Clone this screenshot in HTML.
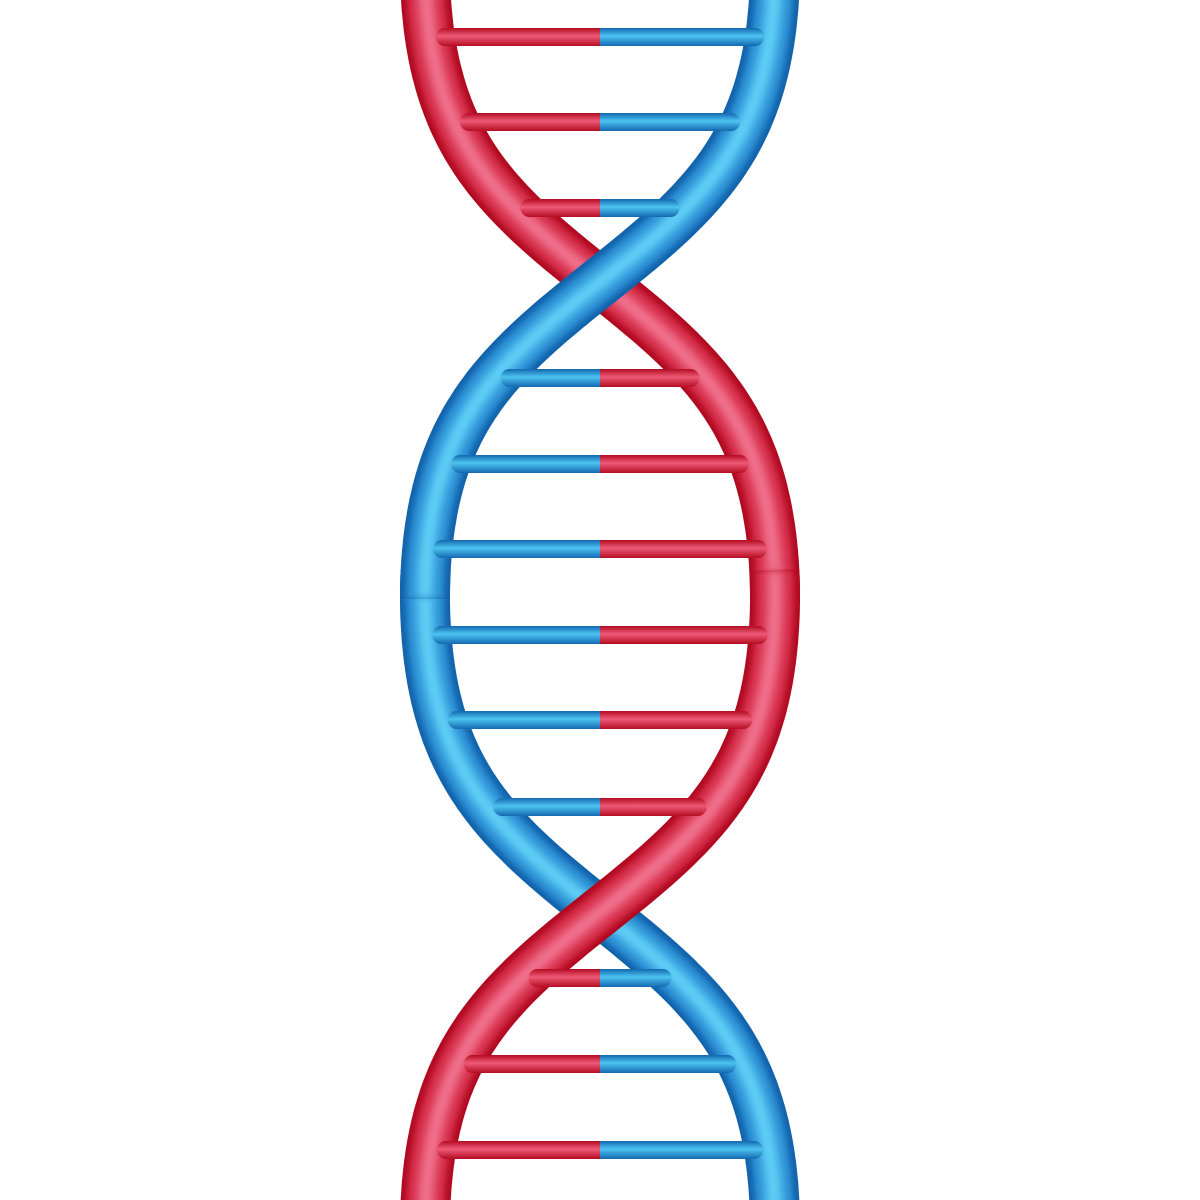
<!DOCTYPE html>
<html><head><meta charset="utf-8"><style>
html,body{margin:0;padding:0;background:#fff;width:1200px;height:1200px;overflow:hidden}
svg{display:block}
</style></head><body>
<svg id="dna" width="1200" height="1200" viewBox="0 0 1200 1200" xmlns="http://www.w3.org/2000/svg">
<defs>
<filter id="soft" x="-20%" y="-20%" width="140%" height="140%"><feGaussianBlur stdDeviation="5"/></filter>
<filter id="soft2" x="-20%" y="-20%" width="140%" height="140%"><feGaussianBlur stdDeviation="3"/></filter>
<linearGradient id="gRed" x1="0" y1="0" x2="0" y2="1">
<stop offset="0" stop-color="#b50c22"/><stop offset="0.45" stop-color="#ee5a78"/><stop offset="1" stop-color="#b50c22"/>
</linearGradient>
<linearGradient id="gBlue" x1="0" y1="0" x2="0" y2="1">
<stop offset="0" stop-color="#1468b0"/><stop offset="0.45" stop-color="#4cc4f0"/><stop offset="1" stop-color="#1468b0"/>
</linearGradient>
</defs>
<g id="strands"></g>
<g id="rungs"></g>
</svg>
<script>
const rungY = [37, 122, 208, 378, 464, 549, 635, 720, 807, 978, 1064, 1150];
const amplitude = 175;
const period = 1260;
const phase = 33;
const cx = 600;
const NS = 'http://www.w3.org/2000/svg';
const red = {edge:'#b00a20', mid:'#d42a46', hi:'#f27590', grad:'url(#gRed)'};
const blue = {edge:'#1262aa', mid:'#2a8ed4', hi:'#62d2f8', grad:'url(#gBlue)'};
const K = 1.2;
function wave(y){const c=Math.cos(2*Math.PI*(y+phase)/period);return Math.tanh(K*c)/Math.tanh(K);}
function redX(y){return cx - amplitude*wave(y);}
function blueX(y){return cx + amplitude*wave(y);}
const rg = document.getElementById('rungs');
const sg = document.getElementById('strands');
function bar(g,x1,x2,y,col){
  const r=document.createElementNS(NS,'rect');
  r.setAttribute('x',x1);r.setAttribute('y',y-9);r.setAttribute('width',Math.max(0,x2-x1));r.setAttribute('height',18);
  r.setAttribute('rx',9);r.setAttribute('fill',col.grad);
  g.appendChild(r);return r;
}
rungY.forEach((y,i)=>{
  const rx=redX(y), bx=blueX(y);
  const g=document.createElementNS(NS,'g');
  
  
  const lx=Math.min(rx,bx)+6, hx=Math.max(rx,bx)-6;
  const leftC = rx<bx?red:blue, rightC = rx<bx?blue:red;
  bar(g,cx-9,hx,y,rightC);
  bar(g,lx,cx+9,y,leftC);
  const s=document.createElementNS(NS,'rect');
  s.setAttribute('x',cx);s.setAttribute('y',y-9);s.setAttribute('width',9);s.setAttribute('height',18);
  s.setAttribute('fill',rightC.grad);
  g.appendChild(s);
  rg.appendChild(g);
});
function strandPath(fn,y0,y1){
  let d='';
  for(let y=y0;y<=y1;y+=3){d+=(y===y0?'M':'L')+fn(y).toFixed(1)+' '+y+' ';}
  return d;
}
function drawStrand(name,fn,col,y0,y1){
  const g=document.createElementNS(NS,'g');
  
  
  const d=strandPath(fn,y0,y1);
  [[col.edge,50,null],[col.mid,38,'url(#soft2)'],[col.hi,16,'url(#soft)']].forEach(([c,w,f])=>{
    const p=document.createElementNS(NS,'path');
    p.setAttribute('d',d);p.setAttribute('fill','none');p.setAttribute('stroke',c);
    p.setAttribute('stroke-width',w);
    if(f)p.setAttribute('filter',f);
    g.appendChild(p);
  });
  sg.appendChild(g);
}
drawStrand('red-strand-upper',redX,red,-40,600);
drawStrand('blue-strand-lower',blueX,blue,570,1240);
drawStrand('blue-strand-upper',blueX,blue,-40,600);
drawStrand('red-strand-lower',redX,red,570,1240);
</script>
</body></html>
